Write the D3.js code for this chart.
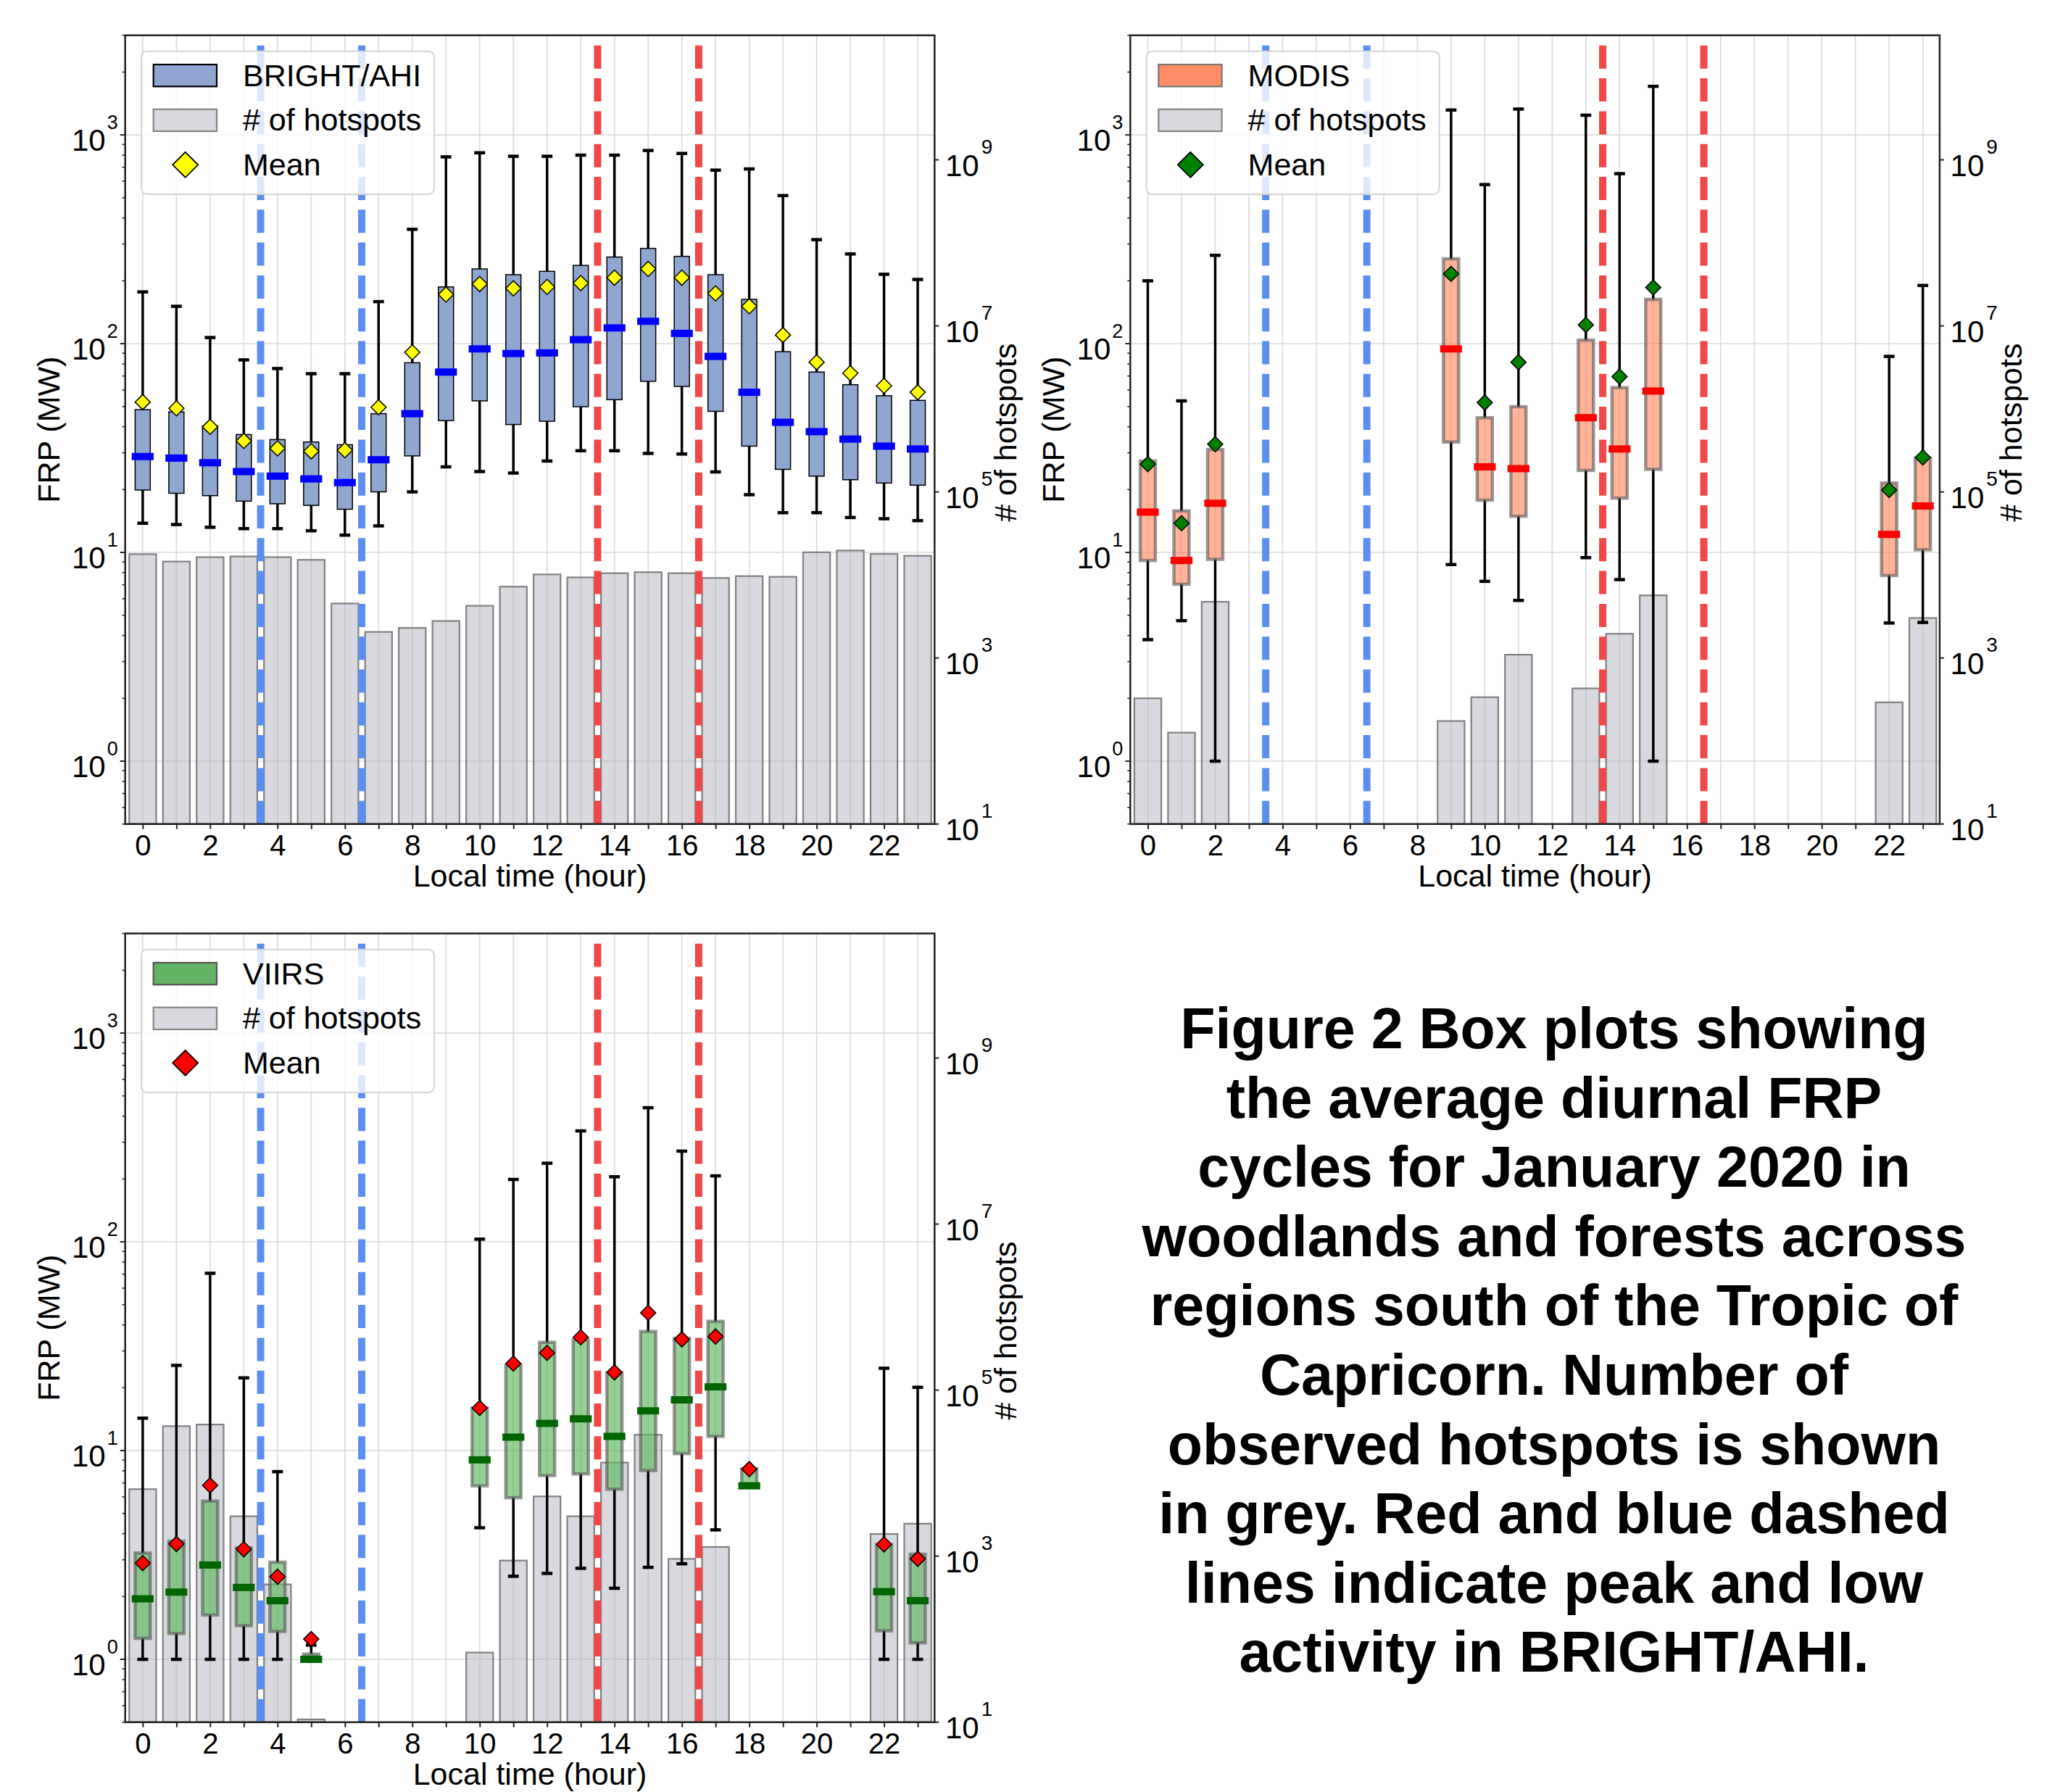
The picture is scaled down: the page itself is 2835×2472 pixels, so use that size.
<!DOCTYPE html>
<html><head><meta charset="utf-8">
<script src="https://cdn.jsdelivr.net/npm/d3@7"></script>
<style>html,body{margin:0;padding:0;background:#fff;} svg{display:block;}</style>
</head><body>
<svg id="chart" width="2835" height="2472"></svg>
<script>
// ---------------- DATA ----------------
const HOURS = [0,1,2,3,4,5,6,7,8,9,10,11,12,13,14,15,16,17,18,19,20,21,22,23];
const X_TICK_LABELS = ["0","2","4","6","8","10","12","14","16","18","20","22"];
const FRP_MAJOR_TICKS = [1,10,100,1000];
const FRP_TICK_EXPONENTS = ["0","1","2","3"];
const COUNT_MAJOR_TICKS = [1e1,1e3,1e5,1e7,1e9];
const COUNT_TICK_EXPONENTS = ["1","3","5","7","9"];
const LOW_ACTIVITY_LINES = [3.5, 6.5];   // blue dashed
const PEAK_ACTIVITY_LINES = [13.5, 16.5]; // red dashed

// BRIGHT/AHI (all hours)
const ahiHours = HOURS;
const ahiWhiskerLow  = [13.8,13.6,13.2,13.0,13.0,12.7,12.1,13.4,19.5,25.7,24.4,24.0,27.4,30.7,30.7,29.8,29.6,24.3,18.9,15.5,15.5,14.7,14.5,14.2];
const ahiQ1          = [19.9,19.2,18.7,17.6,17.1,16.8,16.1,19.5,29.0,42.8,53.2,41.0,42.5,49.9,53.9,66.0,62.4,47.4,32.3,25.0,23.2,22.3,21.5,21.0];
const ahiMedian      = [28.8,28.3,26.9,24.4,23.2,22.5,21.6,27.8,46.2,73.1,94.4,89.7,90.3,104.5,119,128,112,86.9,58.5,42.0,37.9,34.9,32.3,31.3];
const ahiQ3          = [48.3,47.1,40.4,36.7,34.7,33.8,32.8,46.2,81,187,228,214,222,237,260,286,262,214,163,91.5,73.1,63.6,56.3,53.5];
const ahiWhiskerHigh = [177,151,107,83.6,76,71.8,71.8,159,353,785,821,790,790,800,800,842,815,678,687,512,315,269,215,203];
const ahiMean        = [52.5,49,40,34.2,31.5,30.5,30.9,49.6,90.9,172,193,184,187,195,207,228,207,174,151,110,81.5,72.2,62.8,58.5];
const ahiCount       = [17800,14500,16400,16700,16400,15200,4530,2060,2300,2790,4250,7230,10150,9350,10500,10800,10500,9200,9670,9500,18750,19700,17900,17000];

// MODIS
const modisHours       = [0,1,2,9,10,11,13,14,15,22,23];
const modisWhiskerLow  = [3.82,4.71,1.0,8.75,7.27,5.89,9.44,7.41,1.0,4.59,4.62];
const modisQ1          = [9.15,7.04,9.27,33.8,17.8,14.9,24.7,18.2,25.0,7.75,10.3];
const modisMedian      = [15.6,9.15,17.2,94.4,25.7,25.2,44.2,31.3,59.3,12.2,16.7];
const modisQ3          = [27.4,15.8,31.1,255,44.2,49.9,104,61.6,163,21.5,28.3];
const modisWhiskerHigh = [200,53.2,265,1316,578,1330,1243,652,1709,86.9,190];
const modisMean        = [26.5,13.8,33,216,52.2,81.5,123,69.5,186,19.9,28.5];
const modisCount       = [327,126,4750,174,337,1095,430,1955,5680,292,3030];

// VIIRS
const viirsHours       = [0,1,2,3,4,5,10,11,12,13,14,15,16,17,18,22,23];
const viirsWhiskerLow  = [1,1,1,1,1,1.0,4.27,2.50,2.58,2.73,2.19,2.76,2.87,4.17,6.78,1,1];
const viirsQ1          = [1.26,1.33,1.63,1.45,1.36,1.0,6.78,5.95,7.59,7.73,6.53,8.02,9.67,11.7,6.78,1.37,1.20];
const viirsMedian      = [1.95,2.10,2.83,2.21,1.91,1.0,9.03,11.6,13.5,14.2,11.7,15.5,17.5,20.2,6.78,2.11,1.91];
const viirsQ3          = [3.23,3.68,5.73,3.42,2.92,1.06,16,25.6,33.0,33.9,23.6,37.2,34.5,41.6,8.18,3.55,3.19];
const viirsWhiskerHigh = [14.3,25.6,70.7,22.3,7.93,1.17,103,199,238,340,205,439,272,207,8.18,24.8,20.1];
const viirsMean        = [2.89,3.57,6.82,3.37,2.49,1.25,16,26.1,29.4,34.9,23.7,45.7,34.1,35.2,8.15,3.55,3.03];
const viirsCount       = [6410,36800,38500,3020,457,10.8,69,885,5240,3020,13400,29000,927,1290,null,1850,2460];

const CAPTION_LINES = [
  "Figure 2 Box plots showing",
  "the average diurnal FRP",
  "cycles for January 2020 in",
  "woodlands and forests across",
  "regions south of the Tropic of",
  "Capricorn. Number of",
  "observed hotspots is shown",
  "in grey. Red and blue dashed",
  "lines indicate peak and low",
  "activity in BRIGHT/AHI."
];

// ---------------- DRAWING ----------------
const FONT = "'Liberation Sans', Arial, Helvetica, sans-serif";
const svg = d3.select("#chart");
svg.append("rect").attr("width", 2835).attr("height", 2472).attr("fill", "#fff");

const W = 1116.6, H = 1088;

function diamond(r) { return `M0,${-r}L${r},0L0,${r}L${-r},0Z`; }

function drawPanel(o) {
  const g = svg.append("g").attr("transform", `translate(${o.left},${o.top})`);
  const x = d3.scaleLinear().domain([-0.52, 23.5]).range([0, W]);
  const yL = d3.scaleLog().domain([0.5, 3000]).range([H, 0]);
  const yR = d3.scaleLog().domain([10, Math.pow(10, 10.5)]).range([H, 0]);
  const hw = x(1) - x(0);

  // grid
  const grid = g.append("g");
  grid.selectAll("line.v").data(HOURS).join("line").attr("class", "v")
    .attr("x1", d => x(d)).attr("x2", d => x(d)).attr("y1", 0).attr("y2", H)
    .attr("stroke", "#dadada").attr("stroke-width", 1.6);
  grid.selectAll("line.h").data(FRP_MAJOR_TICKS).join("line").attr("class", "h")
    .attr("x1", 0).attr("x2", W).attr("y1", d => yL(d)).attr("y2", d => yL(d))
    .attr("stroke", "#dadada").attr("stroke-width", 1.6);

  // hotspot bars (right axis)
  const bars = o.hours.map((h, i) => ({h, n: o.count[i]})).filter(d => d.n != null);
  g.append("g").selectAll("rect").data(bars).join("rect")
    .attr("x", d => x(d.h - 0.4)).attr("width", 0.8 * hw)
    .attr("y", d => yR(d.n)).attr("height", d => H - yR(d.n))
    .attr("fill", "#b2b4be").attr("fill-opacity", 0.5)
    .attr("stroke", "#808080").attr("stroke-width", 2.2);

  // dashed activity lines
  const dl = g.append("g");
  dl.selectAll("line.b").data(LOW_ACTIVITY_LINES).join("line").attr("class", "b")
    .attr("x1", d => x(d)).attr("x2", d => x(d)).attr("y1", H).attr("y2", 0)
    .attr("stroke", "#5a8ef0").attr("stroke-width", 10).attr("stroke-dasharray", "32,13.3");
  dl.selectAll("line.r").data(PEAK_ACTIVITY_LINES).join("line").attr("class", "r")
    .attr("x1", d => x(d)).attr("x2", d => x(d)).attr("y1", H).attr("y2", 0)
    .attr("stroke", "#ee4848").attr("stroke-width", 10).attr("stroke-dasharray", "32,13.3");

  // box plots
  const stats = o.hours.map((h, i) => ({h, lo: o.lo[i], q1: o.q1[i], med: o.med[i], q3: o.q3[i], hi: o.hi[i], mean: o.mean[i]}));
  const bg = g.append("g");
  const boxW = 0.45 * hw, medW = 0.65 * hw, capW = 0.32 * hw;
  bg.selectAll("line.wu").data(stats.filter(d => d.hi > d.q3)).join("line").attr("class", "wu")
    .attr("x1", d => x(d.h)).attr("x2", d => x(d.h)).attr("y1", d => yL(d.q3)).attr("y2", d => yL(d.hi))
    .attr("stroke", "#000").attr("stroke-width", 3.5);
  bg.selectAll("line.wl").data(stats.filter(d => d.lo < d.q1)).join("line").attr("class", "wl")
    .attr("x1", d => x(d.h)).attr("x2", d => x(d.h)).attr("y1", d => yL(d.q1)).attr("y2", d => yL(d.lo))
    .attr("stroke", "#000").attr("stroke-width", 3.5);
  bg.selectAll("line.cu").data(stats.filter(d => d.hi > d.q3)).join("line").attr("class", "cu")
    .attr("x1", d => x(d.h) - capW / 2).attr("x2", d => x(d.h) + capW / 2)
    .attr("y1", d => yL(d.hi)).attr("y2", d => yL(d.hi))
    .attr("stroke", "#000").attr("stroke-width", 4.5);
  bg.selectAll("line.cl").data(stats.filter(d => d.lo < d.q1)).join("line").attr("class", "cl")
    .attr("x1", d => x(d.h) - capW / 2).attr("x2", d => x(d.h) + capW / 2)
    .attr("y1", d => yL(d.lo)).attr("y2", d => yL(d.lo))
    .attr("stroke", "#000").attr("stroke-width", 4.5);
  bg.selectAll("rect.box").data(stats).join("rect").attr("class", "box")
    .attr("x", d => x(d.h) - boxW / 2).attr("width", boxW)
    .attr("y", d => yL(d.q3)).attr("height", d => Math.max(0.5, yL(d.q1) - yL(d.q3)))
    .attr("fill", o.boxFill).attr("fill-opacity", o.boxOpacity)
    .attr("stroke", o.boxStroke).attr("stroke-opacity", o.boxStrokeOpacity).attr("stroke-width", o.boxStrokeWidth);
  bg.selectAll("rect.med").data(stats).join("rect").attr("class", "med")
    .attr("x", d => x(d.h) - medW / 2).attr("width", medW)
    .attr("y", d => yL(d.med) - 5).attr("height", 10)
    .attr("fill", o.medColor);
  bg.selectAll("path.mean").data(stats).join("path").attr("class", "mean")
    .attr("transform", d => `translate(${x(d.h)},${yL(d.mean)})`)
    .attr("d", diamond(10.5)).attr("fill", o.meanColor).attr("stroke", "#000").attr("stroke-width", 1.5);

  // frame
  g.append("rect").attr("width", W).attr("height", H).attr("fill", "none")
    .attr("stroke", "#222").attr("stroke-width", 2.5);

  // x axis
  const xAxis = d3.axisBottom(x).tickValues(HOURS).tickSize(7).tickPadding(8)
    .tickFormat(d => (d % 2 === 0 ? X_TICK_LABELS[d / 2] : ""));
  const xa = g.append("g").attr("transform", `translate(0,${H})`).call(xAxis);
  xa.select(".domain").remove();
  xa.selectAll("line").attr("stroke", "#222").attr("stroke-width", 2);
  xa.selectAll("text").attr("font-family", FONT).attr("font-size", 40).attr("fill", "#000");

  // left axis ticks
  const minor = [];
  for (let e = -1; e <= 3; e++) for (let m = 2; m <= 9; m++) { const v = m * Math.pow(10, e); if (v >= 0.5 && v <= 3000) minor.push(v); }
  const la = g.append("g");
  la.selectAll("line.mn").data(minor).join("line").attr("class", "mn")
    .attr("x1", -4).attr("x2", 0).attr("y1", d => yL(d)).attr("y2", d => yL(d))
    .attr("stroke", "#222").attr("stroke-width", 1.6);
  la.selectAll("line.mj").data(FRP_MAJOR_TICKS).join("line").attr("class", "mj")
    .attr("x1", -7).attr("x2", 0).attr("y1", d => yL(d)).attr("y2", d => yL(d))
    .attr("stroke", "#222").attr("stroke-width", 2);
  const lt = la.selectAll("text").data(FRP_MAJOR_TICKS).join("text")
    .attr("x", -10).attr("y", d => yL(d) + 21.7).attr("text-anchor", "end")
    .attr("font-family", FONT).attr("fill", "#000");
  lt.append("tspan").attr("font-size", 42).text("10");
  lt.append("tspan").attr("font-size", 27).attr("dx", 2).attr("dy", -30).text((d, i) => FRP_TICK_EXPONENTS[i]);

  // right axis ticks
  const ra = g.append("g").attr("transform", `translate(${W},0)`);
  ra.selectAll("line").data(COUNT_MAJOR_TICKS).join("line")
    .attr("x1", 0).attr("x2", 6).attr("y1", d => yR(d)).attr("y2", d => yR(d))
    .attr("stroke", "#222").attr("stroke-width", 2);
  const rt = ra.selectAll("text").data(COUNT_MAJOR_TICKS).join("text")
    .attr("x", 14.7).attr("y", d => yR(d) + 22.6).attr("text-anchor", "start")
    .attr("font-family", FONT).attr("fill", "#000");
  rt.append("tspan").attr("font-size", 42).text("10");
  rt.append("tspan").attr("font-size", 28).attr("dx", 3).attr("dy", -31).text((d, i) => COUNT_TICK_EXPONENTS[i]);

  // axis labels
  g.append("text").attr("x", W / 2).attr("y", H + 86).attr("text-anchor", "middle")
    .attr("font-family", FONT).attr("font-size", 43).text("Local time (hour)");
  g.append("text").attr("transform", `translate(-91,${H / 2}) rotate(-90)`).attr("text-anchor", "middle")
    .attr("font-family", FONT).attr("font-size", 43).text("FRP (MW)");
  g.append("text").attr("transform", `translate(${W + 113},${H / 2 + 4}) rotate(-90)`).attr("text-anchor", "middle")
    .attr("font-family", FONT).attr("font-size", 43).text("# of hotspots");

  // legend
  const lg = g.append("g").attr("transform", "translate(22.3,22)");
  lg.append("rect").attr("width", 404).attr("height", 197.3).attr("rx", 8)
    .attr("fill", "#fff").attr("fill-opacity", 0.8).attr("stroke", "#d4d4d4").attr("stroke-width", 2);
  lg.append("rect").attr("x", 16.7).attr("y", 18.3).attr("width", 87.3).attr("height", 30.3)
    .attr("fill", o.legendFill).attr("stroke", o.legendStroke).attr("stroke-width", 2.2);
  lg.append("rect").attr("x", 16.7).attr("y", 80).attr("width", 87.3).attr("height", 30.3)
    .attr("fill", "#d8d9de").attr("stroke", "#858585").attr("stroke-width", 2.2);
  lg.append("path").attr("transform", "translate(60.7,156.6)").attr("d", diamond(17.5))
    .attr("fill", o.meanColor).attr("stroke", "#000").attr("stroke-width", 1.8);
  const labels = [o.name, "# of hotspots", "Mean"];
  lg.selectAll("text").data(labels).join("text")
    .attr("x", 140).attr("y", (d, i) => 48.6 + i * 61.2)
    .attr("font-family", FONT).attr("font-size", 43).attr("fill", "#000").text(d => d);
}

drawPanel({
  left: 172.7, top: 48.7, name: "BRIGHT/AHI",
  hours: ahiHours, lo: ahiWhiskerLow, q1: ahiQ1, med: ahiMedian, q3: ahiQ3, hi: ahiWhiskerHigh, mean: ahiMean, count: ahiCount,
  boxFill: "#8fa6d1", boxOpacity: 1, boxStroke: "#000", boxStrokeOpacity: 1, boxStrokeWidth: 1.5,
  medColor: "#0000ff", meanColor: "#ffff00", legendFill: "#8fa6d1", legendStroke: "#000"
});
drawPanel({
  left: 1559.3, top: 48.7, name: "MODIS",
  hours: modisHours, lo: modisWhiskerLow, q1: modisQ1, med: modisMedian, q3: modisQ3, hi: modisWhiskerHigh, mean: modisMean, count: modisCount,
  boxFill: "#ff8c64", boxOpacity: 0.65, boxStroke: "#555", boxStrokeOpacity: 0.6, boxStrokeWidth: 4.5,
  medColor: "#ff0000", meanColor: "#008000", legendFill: "#ff8c64", legendStroke: "#777"
});
drawPanel({
  left: 172.7, top: 1287.7, name: "VIIRS",
  hours: viirsHours, lo: viirsWhiskerLow, q1: viirsQ1, med: viirsMedian, q3: viirsQ3, hi: viirsWhiskerHigh, mean: viirsMean, count: viirsCount,
  boxFill: "#5cb85c", boxOpacity: 0.65, boxStroke: "#555", boxStrokeOpacity: 0.6, boxStrokeWidth: 4.5,
  medColor: "#006400", meanColor: "#ff0000", legendFill: "#66b266", legendStroke: "#555"
});

// caption
svg.append("g").selectAll("text").data(CAPTION_LINES).join("text")
  .attr("x", 2144).attr("y", (d, i) => 1446 + i * 95.6).attr("text-anchor", "middle")
  .attr("font-family", FONT).attr("font-weight", "bold").attr("font-size", 79).attr("fill", "#000")
  .text(d => d);
</script>
</body></html>
